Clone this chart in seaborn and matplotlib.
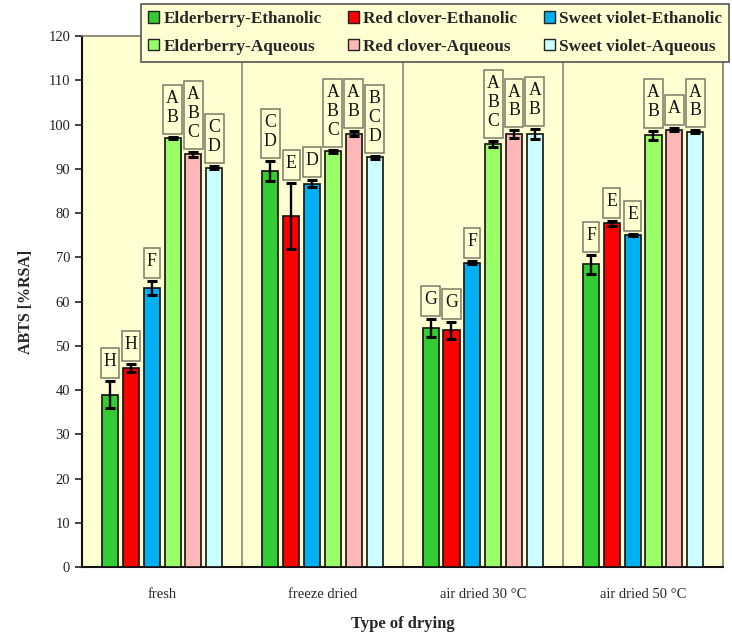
import matplotlib
matplotlib.use("Agg")
import matplotlib.pyplot as plt
from matplotlib.patches import Patch, Rectangle
from matplotlib.transforms import IdentityTransform
import numpy as np
import pandas as pd
import seaborn as sns

# Drying methods on the x axis
drying = ["fresh", "freeze dried", "air dried 30 °C", "air dried 50 °C"]

# Extracts (hue levels) and their fill colours
extracts = ["Elderberry-Ethanolic", "Red clover-Ethanolic", "Sweet violet-Ethanolic",
            "Elderberry-Aqueous", "Red clover-Aqueous", "Sweet violet-Aqueous"]
colors = ["#33CC33", "#FF0000", "#00B0F0", "#99FF66", "#FFB7B7", "#CCFFFF"]

# ABTS radical scavenging activity [%RSA], one list per extract (fresh, freeze, 30 °C, 50 °C)
elder_eth = [39.0, 89.6, 54.0, 68.4]
clover_eth = [45.0, 79.3, 53.5, 77.7]
violet_eth = [63.1, 86.7, 68.8, 75.0]
elder_aq = [97.0, 94.0, 95.7, 97.6]
clover_aq = [93.3, 98.0, 97.9, 98.9]
violet_aq = [90.3, 92.6, 97.9, 98.4]

# Standard deviations
elder_eth_sd = [3.0, 2.3, 2.0, 2.2]
clover_eth_sd = [0.8, 7.5, 2.0, 0.6]
violet_eth_sd = [1.5, 0.8, 0.3, 0.2]
elder_aq_sd = [0.3, 0.3, 0.7, 1.0]
clover_aq_sd = [0.6, 0.5, 0.8, 0.3]
violet_aq_sd = [0.3, 0.4, 1.2, 0.3]

# Homogeneous-group letters
elder_eth_let = ["H", "CD", "G", "F"]
clover_eth_let = ["H", "E", "G", "E"]
violet_eth_let = ["F", "D", "F", "E"]
elder_aq_let = ["AB", "ABC", "ABC", "AB"]
clover_aq_let = ["ABC", "AB", "AB", "A"]
violet_aq_let = ["CD", "BCD", "AB", "AB"]

values = [elder_eth, clover_eth, violet_eth, elder_aq, clover_aq, violet_aq]
sds = [elder_eth_sd, clover_eth_sd, violet_eth_sd, elder_aq_sd, clover_aq_sd, violet_aq_sd]
letters = [elder_eth_let, clover_eth_let, violet_eth_let, elder_aq_let, clover_aq_let, violet_aq_let]

rows = []
for ext, vals in zip(extracts, values):
    for d, v in zip(drying, vals):
        rows.append({"drying": d, "extract": ext, "abts": v})
df = pd.DataFrame(rows)

sns.set_style("ticks")
plt.rcParams["font.family"] = ["Liberation Serif", "DejaVu Serif"]

bg = "#FFFFD2"
fig = plt.figure(figsize=(7.32, 6.36), dpi=100)
ax = fig.add_axes([0.112, 0.1085, 0.876, 0.8345])
ax.set_facecolor(bg)

sns.barplot(data=df, x="drying", y="abts", hue="extract", hue_order=extracts,
            order=drying, palette=colors, saturation=1, width=0.78, gap=0.23,
            edgecolor="#111111", linewidth=1.2, errorbar=None, ax=ax, zorder=3)

bar_containers = list(ax.containers)

# error bars and letters
letter_texts = []
for i, cont in enumerate(bar_containers):
    for j, bar in enumerate(cont.patches):
        xc = bar.get_x() + bar.get_width() / 2
        v = values[i][j]
        e = sds[i][j]
        ax.errorbar(xc, v, yerr=e, color="black", capsize=3.5, capthick=2.2,
                    elinewidth=1.7, zorder=4)
        t = ax.annotate("\n".join(letters[i][j]), xy=(xc, v + e), xytext=(0, 11),
                        textcoords="offset pixels", ha="center", va="bottom",
                        fontsize=12.8, linespacing=1.15, color="#111111", zorder=6)
        letter_texts.append(t)

ax.set_ylim(0, 120)
ax.set_yticks(np.arange(0, 121, 10))
ax.set_xlim(-0.5, 3.5)
ax.tick_params(axis="y", labelsize=10.5, direction="out", length=5, width=1.2, colors="#222222")
ax.tick_params(axis="x", labelsize=10.5, length=0, pad=15)

# group separators
ax.set_xticks([0.5, 1.5, 2.5], minor=True)
ax.tick_params(axis="x", which="minor", length=0)
ax.grid(axis="x", which="minor", color="#8a8a7a", linewidth=1.2, zorder=1)

for s in ["left", "bottom"]:
    ax.spines[s].set_color("#111111")
    ax.spines[s].set_linewidth(1.5)
for s in ["top", "right"]:
    ax.spines[s].set_color("#7a7a6a")
    ax.spines[s].set_linewidth(1.2)

ax.set_ylabel("ABTS [%RSA]", fontsize=11.5, fontweight="bold", labelpad=10)
ax.set_xlabel("Type of drying", fontsize=12, fontweight="bold", labelpad=11)

ax.get_legend().remove()
order = [0, 3, 1, 4, 2, 5]
handles = [Patch(facecolor=colors[k], edgecolor="#222222", linewidth=1.0) for k in order]
labels = [extracts[k] for k in order]
leg = fig.legend(handles, labels, loc="upper left", bbox_to_anchor=(141 / 732, 1 - 4 / 636),
                 borderaxespad=0, ncol=3, frameon=True, fancybox=False,
                 prop={"weight": "bold", "size": 12.3},
                 handlelength=0.65, handleheight=0.65, handletextpad=0.25,
                 columnspacing=1.55, labelspacing=0.7, borderpad=0.4)
leg.get_frame().set_facecolor(bg)
leg.get_frame().set_edgecolor("#555555")
leg.get_frame().set_linewidth(1.2)
leg.get_frame().set_alpha(1)

# framed boxes around the letters (padding in pixels)
fig.canvas.draw()
renderer = fig.canvas.get_renderer()
for t in letter_texts:
    bb = t.get_window_extent(renderer)
    x0, x1 = bb.x0 - 3.0, bb.x1 + 3.0
    y0, y1 = bb.y0 - 8, bb.y1 + 5
    ax.add_patch(Rectangle((x0, y0), x1 - x0, y1 - y0, transform=IdentityTransform(),
                           facecolor=bg, edgecolor="#7a7a68", linewidth=1.1,
                           zorder=5, clip_on=False))

fig.savefig("out.png", dpi=100)
